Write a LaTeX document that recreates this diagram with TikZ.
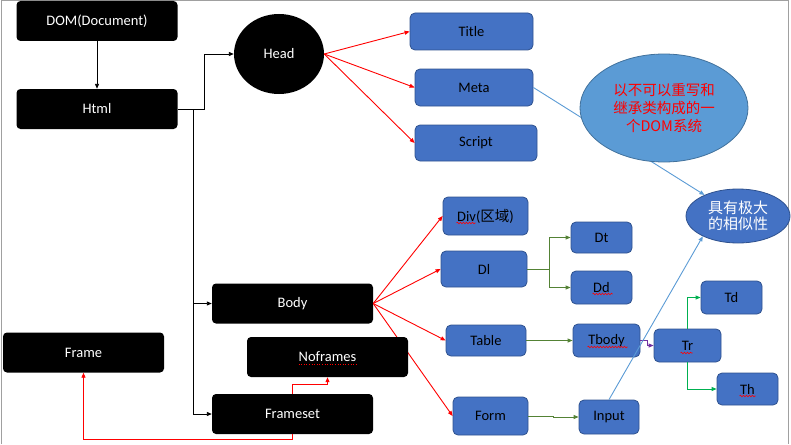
\documentclass[tikz,border=0pt]{standalone}
\usepackage{fontspec}
\setmainfont{Carlito}
\newfontfamily\cjk{Noto Sans CJK SC}
\usetikzlibrary{arrows.meta,shapes.geometric,decorations.pathmorphing,calc}
\definecolor{boxblue}{HTML}{4472C4}
\definecolor{boxedge}{HTML}{2F528F}
\definecolor{lightblue}{HTML}{5B9BD5}
\definecolor{lightedge}{HTML}{41719C}
\definecolor{olivegreen}{HTML}{548235}
\definecolor{brightgreen}{HTML}{00B050}
\definecolor{purp}{HTML}{7030A0}
\definecolor{framegray}{HTML}{A0A0A0}
\begin{document}
\begin{tikzpicture}[x=1pt,y=-1pt,
  font=\fontsize{14.5}{18}\selectfont,
  blackbox/.style={draw=none,fill=black,text=white,rounded corners=4pt,minimum width=161pt,minimum height=40pt,inner sep=0pt},
  bluebox/.style={draw=boxedge,line width=0.8pt,fill=boxblue,text=black,rounded corners=5pt,inner sep=0pt},
  tip/.style={-{Triangle[length=5pt,width=4pt]}},
  blk/.style={draw=black,line width=0.9pt},
  redln/.style={draw=red,line width=0.9pt},
  grn/.style={draw=olivegreen,line width=0.9pt},
  bgrn/.style={draw=brightgreen,line width=0.9pt},
  prp/.style={draw=purp,line width=0.9pt},
  lbl/.style={draw=lightblue,line width=0.9pt},
  wavy/.style={draw=red,line width=0.6pt,decorate,decoration={snake,segment length=3pt,amplitude=0.8pt}}]
\useasboundingbox (0,0) rectangle (791,444);
\draw[framegray,line width=1pt] (1.5,444) -- (1.5,0.5) -- (788,0.5) -- (788,444);

% black nodes
\node[blackbox] (dom) at (97,21) {DOM(Document)};
\node[blackbox] (html) at (97,109) {Html};
\node[ellipse,fill=black,text=white,minimum width=90pt,minimum height=80pt,inner sep=0pt] (head) at (279,54) {Head};
\node[blackbox] (body) at (292.5,303.5) {Body};
\node[blackbox] (frame) at (83.5,352.5) {Frame};
\node[blackbox] (frameset) at (292.5,414) {Frameset};

% blue nodes
\node[bluebox,minimum width=123pt,minimum height=37pt] (title) at (471.5,31.5) {Title};
\node[bluebox,minimum width=118pt,minimum height=37pt] (meta) at (474,87.5) {Meta};
\node[bluebox,minimum width=122pt,minimum height=36pt] (script) at (476,143) {Script};
\node[bluebox,minimum width=85pt,minimum height=38pt] (div) at (485.5,216) {Div({\cjk 区域})};
\node[bluebox,minimum width=86pt,minimum height=36pt] (dl) at (484,269) {Dl};
\node[bluebox,minimum width=61pt,minimum height=31pt] (dt) at (601.5,237.5) {Dt};
\node[bluebox,minimum width=61pt,minimum height=33pt] (dd) at (601.5,287.5) {Dd};
\node[bluebox,minimum width=80pt,minimum height=31pt] (table) at (486,340.5) {Table};
\node[bluebox,minimum width=67pt,minimum height=33pt] (tbody) at (606.5,340.5) {Tbody};
\node[bluebox,minimum width=67pt,minimum height=33pt] (tr) at (687.5,345.5) {Tr};
\node[bluebox,minimum width=61pt,minimum height=33pt] (td) at (731.5,297.5) {Td};
\node[bluebox,minimum width=61pt,minimum height=32pt] (th) at (747.5,389) {Th};
\node[bluebox,minimum width=75pt,minimum height=38pt] (form) at (490.5,416) {Form};
\node[bluebox,minimum width=60pt,minimum height=34pt] (input) at (609,417) {Input};
\node[ellipse,draw=boxedge,line width=0.8pt,fill=boxblue,text=white,minimum width=104pt,minimum height=54pt,inner sep=0pt,align=center,font=\cjk\fontsize{15}{17}\selectfont] (sim) at (738,216) {具有极大\\[-1pt]的相似性};

% Meta -> similarity line (behind big ellipse)
\draw[lbl,tip] (meta.east) -- (sim);
\node[ellipse,draw=lightedge,line width=0.8pt,fill=lightblue,text=red,minimum width=168pt,minimum height=108pt,inner sep=0pt,align=center,font=\cjk\fontsize{14.5}{18}\selectfont] (note) at (664,108) {以不可以重写和\\继承类构成的一\\个DOM系统};

% black connectors
\draw[blk,tip] (dom) -- (html);
\draw[blk,tip] (html.east) -- ++(27,0) |- (head.west);
\coordinate (hj) at ($(html.east)+(16,0)$);
\draw[blk,tip] (hj) |- (body.west);
\draw[blk,tip] (hj) |- (frameset.west);

% red connectors from Head
\draw[redln,tip] (head.east) -- (title.west);
\draw[redln,tip] (head.east) -- (meta.west);
\draw[redln,tip] (head.east) -- (script.west);

% red connectors from Body
\draw[redln,tip] (body.east) -- (div.west);
\draw[redln,tip] (body.east) -- (dl.west);
\draw[redln,tip] (body.east) -- (table.west);
\draw[redln,tip] (body.east) -- (form.west);

% Noframes on top of the red line
\node[blackbox] (noframes) at (327.5,357) {Noframes};

% frameset connectors
\draw[redln,tip] (frameset.north) -- ++(0,-9) -| (noframes.south);
\draw[redln,tip] (frameset.south) -- ++(0,5) -| (frame.south);

% green / purple connectors
\draw[grn,tip] (dl.east) -- ++(22,0) |- (dt.west);
\draw[grn,tip] (dl.east) -- ++(22,0) |- (dd.west);
\draw[grn,tip] (table.east) -- (tbody.west);
\draw[prp,tip] (tbody.east) -- ++(7,0) |- (tr.west);
\draw[bgrn,tip] (tr.north) |- (td.west);
\draw[bgrn,tip] (tr.south) |- (th.west);
\draw[grn,tip] (form.east) -- ++(25,0) |- (input.west);

% Input -> similarity
\draw[lbl,tip] (input.north) -- (sim.210);

% spell-check underlines
\draw[wavy] ([shift={(-29,7)}]div.center) -- ++(19,0);
\draw[wavy] ([shift={(-9,6.5)}]dd.center) -- ++(20,0);
\draw[wavy] ([shift={(-19,6.5)}]tbody.center) -- ++(40,0);
\draw[wavy] ([shift={(-7,7.5)}]tr.center) -- ++(12,0);
\draw[wavy] ([shift={(-8,7)}]th.center) -- ++(16,0);
\draw[red,line width=0.6pt,dotted] ([shift={(-29,7)}]noframes.center) -- ++(59,0);
\end{tikzpicture}
\end{document}
